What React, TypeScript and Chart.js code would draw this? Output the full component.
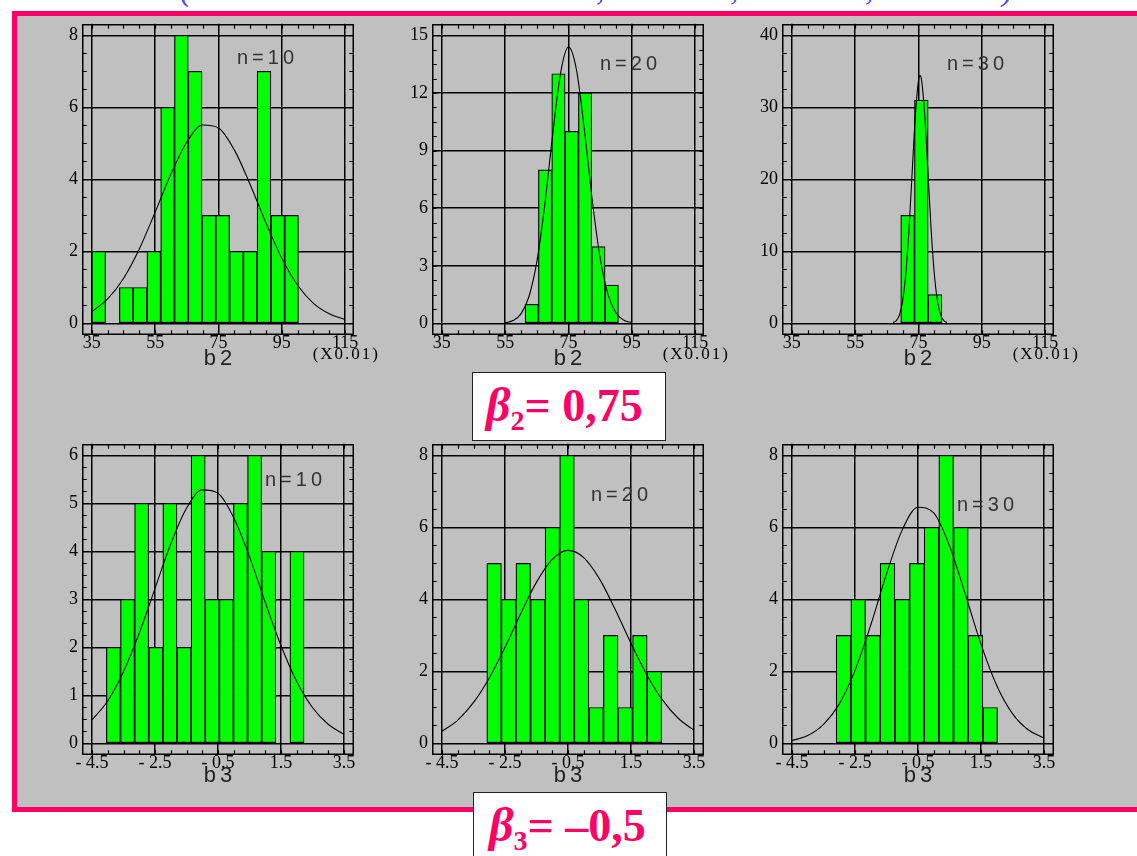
import React, { useEffect, useRef } from 'react';
import { Chart, registerables } from 'chart.js';

Chart.register(...registerables);

// ---------------- data ----------------
const b2TickValues = [35, 55, 75, 95, 115];
const b2TickLabels = ['35', '55', '75', '95', '115'];
const b3TickValues = [-4.5, -2.5, -0.5, 1.5, 3.5];
const b3TickLabels = ['- 4.5', '- 2.5', '- 0.5', '1.5', '3.5'];

// b2, n = 10
const b2n10BinStart = 35;
const b2n10BinWidth = 4.35;
const b2n10Counts = [2, 0, 1, 1, 2, 6, 8, 7, 3, 3, 2, 2, 7, 3, 3];
const b2n10CurveX = [35, 40, 45, 50, 55, 60, 65, 70, 75, 80, 85, 90, 95, 100, 105, 110, 115];
const b2n10CurveY = [0.33, 0.68, 1.25, 2.07, 3.09, 4.15, 5.04, 5.51, 5.43, 4.82, 3.86, 2.79, 1.81, 1.06, 0.56, 0.27, 0.11];

// b2, n = 20
const b2n20BinStart = 61.3;
const b2n20BinWidth = 4.21;
const b2n20Counts = [1, 8, 13, 10, 12, 4, 2];
const b2n20CurveX = [55, 57.5, 60, 62.5, 65, 67.5, 70, 72.5, 75, 77.5, 80, 82.5, 85, 87.5, 90, 92.5, 95];
const b2n20CurveY = [0.04, 0.15, 0.5, 1.39, 3.21, 6.15, 9.82, 13.03, 14.4, 13.23, 10.12, 6.44, 3.4, 1.5, 0.55, 0.17, 0.04];

// b2, n = 30
const b2n30BinStart = 69.4;
const b2n30BinWidth = 4.33;
const b2n30Counts = [15, 31, 4];
const b2n30CurveX = [67, 68, 69, 70, 71, 72, 73, 74, 75, 75.5, 76, 77, 78, 79, 80, 81, 82, 83, 84];
const b2n30CurveY = [0.11, 0.4, 1.2, 3.12, 6.9, 13.02, 20.95, 28.76, 33.72, 34.4, 33.72, 28.76, 20.95, 13.02, 6.9, 3.12, 1.2, 0.4, 0.11];

// b3 curves share x positions
const b3CurveX = [-4.5, -4, -3.5, -3, -2.5, -2, -1.5, -1, -0.5, 0, 0.5, 1, 1.5, 2, 2.5, 3, 3.5];

// b3, n = 10
const b3n10BinStart = -4.046;
const b3n10BinWidth = 0.4485;
const b3n10Counts = [2, 3, 5, 2, 5, 2, 6, 3, 3, 5, 6, 4, 0, 4];
const b3n10CurveY = [0.49, 0.89, 1.5, 2.3, 3.23, 4.16, 4.9, 5.28, 5.21, 4.7, 3.89, 2.94, 2.04, 1.29, 0.75, 0.4, 0.19];

// b3, n = 20
const b3n20BinStart = -3.079;
const b3n20BinWidth = 0.463;
const b3n20Counts = [5, 4, 5, 4, 6, 8, 4, 1, 3, 1, 3, 2];
const b3n20CurveY = [0.34, 0.65, 1.14, 1.82, 2.67, 3.61, 4.48, 5.11, 5.36, 5.16, 4.57, 3.72, 2.78, 1.91, 1.21, 0.7, 0.37];

// b3, n = 30
const b3n30BinStart = -3.1;
const b3n30BinWidth = 0.466;
const b3n30Counts = [3, 4, 3, 5, 4, 5, 6, 8, 6, 3, 1];
const b3n30CurveY = [0.08, 0.22, 0.53, 1.1, 2.03, 3.29, 4.71, 5.93, 6.56, 6.4, 5.49, 4.15, 2.76, 1.61, 0.83, 0.38, 0.15];

// ---------------- layout ----------------
const FRAME_W = 272;
const FRAME_H = 314;
const PAD_L = 50;
const PAD_T = 12;
const PAD_R = 60;
const PAD_B = 50;
const CANVAS_W = FRAME_W + PAD_L + PAD_R;
const CANVAS_H = FRAME_H + PAD_T + PAD_B;

const PINK = '#ff0066';
const GREEN = '#00ff00';
const LINE_W = 1.5;

type Panel = {
  id: string;
  left: number;
  top: number;
  counts: number[];
  binStart: number;
  binWidth: number;
  curveX: number[];
  curveY: number[];
  xMin: number;
  xMax: number;
  xTicks: number[];
  xLabels: string[];
  yTop: number;
  yStep: number;
  note: string;
  noteDx: number;
  noteDy: number;
  title: string;
  titleDy: number;
  unit: string;
};

const panels: Panel[] = [
  { id: 'a', left: 82, top: 21, counts: b2n10Counts, binStart: b2n10BinStart, binWidth: b2n10BinWidth, curveX: b2n10CurveX, curveY: b2n10CurveY, xMin: 31.9, xMax: 117.8, xTicks: b2TickValues, xLabels: b2TickLabels, yTop: 8, yStep: 2, note: 'n=10', noteDx: 155, noteDy: 40, title: 'b2', titleDy: 30, unit: '(X0.01)' },
  { id: 'b', left: 432, top: 21, counts: b2n20Counts, binStart: b2n20BinStart, binWidth: b2n20BinWidth, curveX: b2n20CurveX, curveY: b2n20CurveY, xMin: 31.9, xMax: 117.8, xTicks: b2TickValues, xLabels: b2TickLabels, yTop: 15, yStep: 3, note: 'n=20', noteDx: 168, noteDy: 46, title: 'b2', titleDy: 30, unit: '(X0.01)' },
  { id: 'c', left: 782, top: 21, counts: b2n30Counts, binStart: b2n30BinStart, binWidth: b2n30BinWidth, curveX: b2n30CurveX, curveY: b2n30CurveY, xMin: 31.9, xMax: 117.8, xTicks: b2TickValues, xLabels: b2TickLabels, yTop: 40, yStep: 10, note: 'n=30', noteDx: 165, noteDy: 46, title: 'b2', titleDy: 30, unit: '(X0.01)' },
  { id: 'd', left: 82, top: 441, counts: b3n10Counts, binStart: b3n10BinStart, binWidth: b3n10BinWidth, curveX: b3CurveX, curveY: b3n10CurveY, xMin: -4.82, xMax: 3.82, xTicks: b3TickValues, xLabels: b3TickLabels, yTop: 6, yStep: 1, note: 'n=10', noteDx: 183, noteDy: 42, title: 'b3', titleDy: 27, unit: '' },
  { id: 'e', left: 432, top: 441, counts: b3n20Counts, binStart: b3n20BinStart, binWidth: b3n20BinWidth, curveX: b3CurveX, curveY: b3n20CurveY, xMin: -4.82, xMax: 3.82, xTicks: b3TickValues, xLabels: b3TickLabels, yTop: 8, yStep: 2, note: 'n=20', noteDx: 159, noteDy: 57, title: 'b3', titleDy: 27, unit: '' },
  { id: 'f', left: 782, top: 441, counts: b3n30Counts, binStart: b3n30BinStart, binWidth: b3n30BinWidth, curveX: b3CurveX, curveY: b3n30CurveY, xMin: -4.82, xMax: 3.82, xTicks: b3TickValues, xLabels: b3TickLabels, yTop: 8, yStep: 2, note: 'n=30', noteDx: 175, noteDy: 67, title: 'b3', titleDy: 27, unit: '' },
];

// Frame, minor ticks and in-plot texts
const decorPlugin = {
  id: 'decor',
  afterDraw(chart: any, _args: any, opts: any) {
    const { ctx, chartArea: a } = chart;
    const xs = chart.scales.x;
    const ys = chart.scales.y;
    ctx.save();
    ctx.strokeStyle = '#000';
    ctx.lineWidth = LINE_W;
    const L = Math.round(a.left) + 0.75;
    const T = Math.round(a.top) + 0.75;
    const R = Math.round(a.right) - 0.75;
    const B = Math.round(a.bottom) - 0.75;
    ctx.strokeRect(L, T, R - L, B - T);

    const tk = 4;
    ctx.lineWidth = 1.2;
    ctx.beginPath();
    const xt: number[] = opts.xTicks;
    const xStep = (xt[1] - xt[0]) / 4;
    for (let k = -8; k <= (xt.length - 1) * 4 + 8; k++) {
      const v = xt[0] + k * xStep;
      if (v <= xs.min || v >= xs.max) continue;
      const px = Math.round(xs.getPixelForValue(v)) + 0.5;
      ctx.moveTo(px, T); ctx.lineTo(px, T + tk);
      ctx.moveTo(px, B); ctx.lineTo(px, B - tk);
    }
    const yStep = opts.yStep / 4;
    for (let k = -8; k <= Math.round(opts.yTop / yStep) + 8; k++) {
      const v = k * yStep;
      if (v <= ys.min || v >= ys.max) continue;
      const py = Math.round(ys.getPixelForValue(v)) + 0.5;
      ctx.moveTo(L, py); ctx.lineTo(L + tk, py);
      ctx.moveTo(R, py); ctx.lineTo(R - tk, py);
    }
    ctx.stroke();

    // note n=..
    ctx.fillStyle = '#333';
    ctx.font = '20px "Liberation Sans"';
    ctx.textBaseline = 'alphabetic';
    ctx.textAlign = 'left';
    (ctx as any).letterSpacing = '4px';
    ctx.fillText(opts.note, a.left + opts.noteDx, a.top + opts.noteDy);

    // axis title
    ctx.fillStyle = '#222';
    ctx.font = '22px "Liberation Sans"';
    (ctx as any).letterSpacing = '4px';
    ctx.textAlign = 'center';
    ctx.fillText(opts.title, (a.left + a.right) / 2 + 2, a.bottom + opts.titleDy);

    // unit
    if (opts.unit) {
      ctx.fillStyle = '#000';
      ctx.font = '17px "Liberation Serif"';
      (ctx as any).letterSpacing = '2px';
      ctx.textAlign = 'right';
      ctx.fillText(opts.unit, a.right + 26, a.bottom + 24);
    }
    ctx.restore();
  },
};

function HistPanel({ p }: { p: Panel }) {
  const ref = useRef<HTMLCanvasElement | null>(null);
  useEffect(() => {
    const canvas = ref.current;
    if (!canvas) return;
    const bars = p.counts.map((c, i) => ({ x: p.binStart + (i + 0.5) * p.binWidth, y: c }));
    const curve = p.curveX.map((x, i) => ({ x, y: p.curveY[i] }));
    const yTicks: number[] = [];
    for (let v = 0; v <= p.yTop + 1e-9; v += p.yStep) yTicks.push(v);
    const tickFont = { family: '"Liberation Serif"', size: 18 };
    const chart = new Chart(canvas, {
      type: 'bar',
      data: {
        datasets: [
          {
            type: 'line',
            data: curve,
            borderColor: '#000',
            borderWidth: 1.1,
            pointRadius: 0,
            tension: 0.4,
            cubicInterpolationMode: 'monotone',
            fill: false,
            order: 0,
          } as any,
          {
            type: 'bar',
            data: bars,
            backgroundColor: GREEN,
            borderColor: '#000',
            borderWidth: 1.2,
            borderSkipped: false,
            barPercentage: 1,
            categoryPercentage: 1,
            order: 1,
          } as any,
        ],
      },
      options: {
        responsive: false,
        animation: false,
        events: [],
        layout: { padding: { left: 0, top: PAD_T, right: PAD_R, bottom: 0 } },
        plugins: {
          legend: { display: false },
          tooltip: { enabled: false },
          title: { display: false },
          decor: { xTicks: p.xTicks, yStep: p.yStep, yTop: p.yTop, note: p.note, noteDx: p.noteDx, noteDy: p.noteDy, title: p.title, titleDy: p.titleDy, unit: p.unit },
        } as any,
        scales: {
          x: {
            type: 'linear',
            min: p.xMin,
            max: p.xMax,
            bounds: 'data',
            offset: false,
            afterBuildTicks: (s: any) => { s.ticks = p.xTicks.map((v) => ({ value: v })); },
            afterFit: (s: any) => { s.height = PAD_B; },
            grid: { color: '#000', lineWidth: LINE_W, drawTicks: false, offset: false },
            border: { display: false },
            ticks: {
              autoSkip: false,
              maxRotation: 0,
              minRotation: 0,
              padding: -3,
              color: '#000',
              font: tickFont,
              callback: (_v: any, i: number) => p.xLabels[i],
            },
          },
          y: {
            type: 'linear',
            min: -0.04 * p.yTop,
            max: 1.04 * p.yTop,
            bounds: 'data',
            afterBuildTicks: (s: any) => { s.ticks = yTicks.map((v) => ({ value: v })); },
            afterFit: (s: any) => { s.width = PAD_L; },
            grid: { color: '#000', lineWidth: LINE_W, drawTicks: false },
            border: { display: false },
            ticks: {
              padding: 4,
              color: '#000',
              font: tickFont,
              callback: (v: any) => String(v),
            },
          },
        } as any,
      },
      plugins: [decorPlugin],
    } as any);
    return () => chart.destroy();
  }, [p]);
  return (
    <canvas
      ref={ref}
      width={CANVAS_W}
      height={CANVAS_H}
      style={{ position: 'absolute', left: p.left - PAD_L, top: p.top - PAD_T, width: CANVAS_W, height: CANVAS_H }}
    />
  );
}

const fragmentStyle: React.CSSProperties = {
  position: 'absolute',
  top: -28,
  font: 'italic 34px "Liberation Serif"',
  lineHeight: '34px',
  color: '#4a4aff',
};

const betaTextStyle: React.CSSProperties = {
  position: 'absolute',
  font: 'bold 46px "Liberation Serif"',
  lineHeight: '46px',
  color: PINK,
  whiteSpace: 'nowrap',
};

export default function App() {
  return (
    <div style={{ position: 'absolute', left: 0, top: 0, width: 1137, height: 856, overflow: 'hidden', background: '#fff' }}>
      <span style={{ ...fragmentStyle, left: 180 }}>(</span>
      <span style={{ ...fragmentStyle, left: 596 }}>,</span>
      <span style={{ ...fragmentStyle, left: 730 }}>,</span>
      <span style={{ ...fragmentStyle, left: 865 }}>,</span>
      <span style={{ ...fragmentStyle, left: 1002 }}>)</span>
      <div
        style={{
          position: 'absolute',
          left: 12,
          top: 11,
          width: 1200,
          height: 801,
          boxSizing: 'border-box',
          border: `5px solid ${PINK}`,
          background: '#c0c0c0',
        }}
      />
      {panels.map((p) => (
        <HistPanel key={p.id} p={p} />
      ))}
      <div style={{ position: 'absolute', left: 472, top: 372, width: 194, height: 69, boxSizing: 'border-box', background: '#fff', border: '1px solid #222' }}>
        <div style={{ ...betaTextStyle, left: 13, top: 9 }}>
          <span style={{ fontStyle: 'italic', fontSize: 48 }}>β</span>
          <span style={{ fontSize: 28, position: 'relative', top: 9 }}>2</span>
          <span>= 0,75</span>
        </div>
      </div>
      <div style={{ position: 'absolute', left: 473, top: 792, width: 194, height: 90, boxSizing: 'border-box', background: '#fff', border: '1px solid #222' }}>
        <div style={{ ...betaTextStyle, left: 15, top: 9 }}>
          <span style={{ fontStyle: 'italic', fontSize: 48 }}>β</span>
          <span style={{ fontSize: 28, position: 'relative', top: 9 }}>3</span>
          <span>= –0,5</span>
        </div>
      </div>
    </div>
  );
}
